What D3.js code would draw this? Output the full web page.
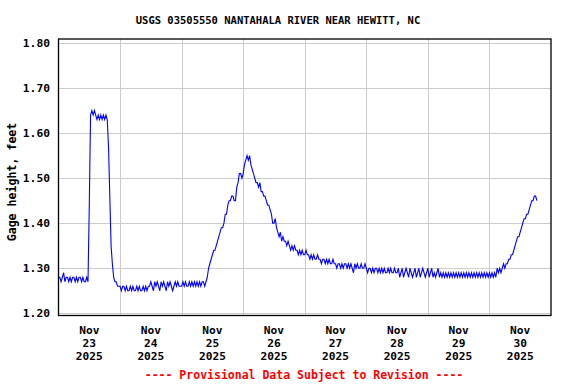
<!DOCTYPE html>
<html>
  <head>
    <title>USGS 03505550</title>
    <script src="https://d3js.org/d3.v7.min.js"></script>
    <style>
      body { margin: 0; background: #fff; }
      text { font-family: "DejaVu Sans Mono", "Liberation Mono", monospace; font-weight: bold; }
    </style>
  </head>

  <body>
    <svg width="576" height="384"></svg>

    <script>

    // gage height, feet, every 30 minutes from Nov 23 00:00
    const startTime = Date.UTC(2025, 10, 23, 0);
    const stepMinutes = 30;
    const gageHeight = [
      // Nov 23
      1.28, 1.28, 1.27, 1.28, 1.29, 1.27, 1.28, 1.28, 1.27, 1.28, 1.27, 1.28,
      1.28, 1.27, 1.28, 1.27, 1.28, 1.28, 1.27, 1.28, 1.27, 1.27, 1.28, 1.27,
      1.44, 1.64, 1.65, 1.64, 1.65, 1.64, 1.63, 1.64, 1.63, 1.64, 1.63, 1.64,
      1.63, 1.64, 1.63, 1.57, 1.46, 1.35, 1.31, 1.28, 1.27, 1.27, 1.26, 1.26,
      // Nov 24
      1.26, 1.25, 1.26, 1.26, 1.25, 1.26, 1.25, 1.25, 1.26, 1.25, 1.26, 1.25,
      1.25, 1.26, 1.25, 1.26, 1.25, 1.25, 1.26, 1.25, 1.26, 1.25, 1.26, 1.26,
      1.27, 1.26, 1.25, 1.27, 1.26, 1.27, 1.26, 1.25, 1.27, 1.26, 1.27, 1.26,
      1.25, 1.27, 1.26, 1.27, 1.26, 1.25, 1.26, 1.27, 1.26, 1.27, 1.26, 1.26,
      // Nov 25
      1.26, 1.27, 1.26, 1.27, 1.26, 1.26, 1.27, 1.26, 1.27, 1.26, 1.27, 1.26,
      1.27, 1.26, 1.27, 1.26, 1.27, 1.27, 1.26, 1.27, 1.28, 1.30, 1.31, 1.32,
      1.33, 1.34, 1.34, 1.35, 1.36, 1.37, 1.38, 1.39, 1.39, 1.40, 1.42, 1.42,
      1.44, 1.45, 1.45, 1.46, 1.46, 1.45, 1.45, 1.48, 1.49, 1.51, 1.51, 1.50,
      // Nov 26
      1.51, 1.53, 1.54, 1.55, 1.54, 1.55, 1.53, 1.52, 1.51, 1.50, 1.49, 1.49,
      1.48, 1.49, 1.47, 1.47, 1.46, 1.46, 1.45, 1.44, 1.44, 1.43, 1.42, 1.40,
      1.40, 1.41, 1.39, 1.38, 1.37, 1.38, 1.36, 1.37, 1.36, 1.36, 1.35, 1.36,
      1.35, 1.34, 1.35, 1.34, 1.35, 1.34, 1.34, 1.33, 1.34, 1.33, 1.34, 1.33,
      // Nov 27
      1.33, 1.34, 1.33, 1.33, 1.32, 1.33, 1.32, 1.33, 1.32, 1.32, 1.33, 1.32,
      1.32, 1.31, 1.32, 1.32, 1.31, 1.32, 1.31, 1.32, 1.31, 1.31, 1.32, 1.31,
      1.31, 1.30, 1.31, 1.31, 1.30, 1.31, 1.30, 1.31, 1.31, 1.30, 1.31, 1.30,
      1.31, 1.30, 1.29, 1.31, 1.30, 1.31, 1.30, 1.30, 1.31, 1.30, 1.30, 1.31,
      // Nov 28
      1.30, 1.29, 1.30, 1.30, 1.29, 1.30, 1.29, 1.30, 1.30, 1.29, 1.30, 1.29,
      1.30, 1.29, 1.30, 1.29, 1.29, 1.30, 1.29, 1.30, 1.29, 1.29, 1.30, 1.29,
      1.29, 1.30, 1.28, 1.29, 1.30, 1.28, 1.29, 1.30, 1.29, 1.28, 1.30, 1.29,
      1.28, 1.29, 1.30, 1.28, 1.29, 1.30, 1.28, 1.29, 1.30, 1.29, 1.28, 1.29,
      // Nov 29
      1.30, 1.28, 1.29, 1.30, 1.28, 1.29, 1.28, 1.29, 1.30, 1.28, 1.29, 1.28,
      1.29, 1.28, 1.29, 1.28, 1.29, 1.28, 1.29, 1.28, 1.29, 1.28, 1.29, 1.28,
      1.29, 1.28, 1.29, 1.28, 1.29, 1.28, 1.29, 1.28, 1.29, 1.28, 1.29, 1.28,
      1.29, 1.28, 1.29, 1.28, 1.29, 1.28, 1.29, 1.28, 1.29, 1.28, 1.29, 1.28,
      // Nov 30
      1.29, 1.28, 1.29, 1.28, 1.29, 1.28, 1.30, 1.29, 1.30, 1.29, 1.30, 1.31,
      1.30, 1.31, 1.31, 1.32, 1.32, 1.33, 1.33, 1.34, 1.35, 1.36, 1.37, 1.37,
      1.38, 1.39, 1.40, 1.41, 1.41, 1.42, 1.42, 1.43, 1.44, 1.45, 1.45, 1.46,
      1.46, 1.45
    ];

    const yTicks = [1.20, 1.30, 1.40, 1.50, 1.60, 1.70, 1.80];
    const dayLabels = ['23', '24', '25', '26', '27', '28', '29', '30'];
    const monthLabel = 'Nov';
    const yearLabel = '2025';

    const title = 'USGS 03505550 NANTAHALA RIVER NEAR HEWITT, NC';
    const yTitle = 'Gage height, feet';
    const footer = '---- Provisional Data Subject to Revision ----';

    (function (d3) {
    'use strict';

    const svg = d3.select('svg');
    const pLeft = 58.5, pRight = 551, pTop = 39, pBottom = 315.5;

    const x = d3.scaleUtc()
      .domain([new Date(Date.UTC(2025, 10, 23)), new Date(Date.UTC(2025, 11, 1))])
      .range([pLeft, pRight]);
    const y = d3.scaleLinear()
      .domain([1.1951, 1.8089])
      .range([pBottom, pTop]);

    const data = gageHeight.map((v, i) => ({
      t: new Date(startTime + i * stepMinutes * 60000),
      v: v
    }));

    // grid
    const grid = svg.append('g').attr('stroke', '#cccccc').attr('stroke-width', 1);
    grid.selectAll('line.h').data(yTicks).enter().append('line')
      .attr('x1', pLeft).attr('x2', pRight)
      .attr('y1', d => Math.round(y(d)) + 0.5).attr('y2', d => Math.round(y(d)) + 0.5);
    const midnights = d3.utcDay.range(new Date(Date.UTC(2025, 10, 24)), new Date(Date.UTC(2025, 11, 1)));
    grid.selectAll('line.v').data(midnights).enter().append('line')
      .attr('y1', pTop).attr('y2', pBottom)
      .attr('x1', d => Math.round(x(d)) + 0.5).attr('x2', d => Math.round(x(d)) + 0.5);

    // series
    const line = d3.line().x(d => x(d.t)).y(d => y(d.v));
    svg.append('path')
      .datum(data)
      .attr('fill', 'none')
      .attr('stroke', '#0000ff')
      .attr('stroke-width', 1.1)
      .attr('d', line);

    // frame
    svg.append('rect')
      .attr('x', pLeft).attr('y', pTop)
      .attr('width', pRight - pLeft).attr('height', pBottom - pTop)
      .attr('fill', 'none').attr('stroke', '#000').attr('stroke-width', 1.3);

    // y tick labels
    svg.selectAll('text.ytick').data(yTicks).enter().append('text')
      .attr('x', 50).attr('y', d => y(d))
      .attr('dy', '0.35em')
      .attr('text-anchor', 'end')
      .attr('font-size', 11.3)
      .text(d => d.toFixed(2));

    // x labels at noon of each day
    const days = d3.utcDay.range(new Date(Date.UTC(2025, 10, 23)), new Date(Date.UTC(2025, 11, 1)));
    const xl = svg.selectAll('text.xtick').data(days).enter().append('text')
      .attr('text-anchor', 'middle')
      .attr('font-size', 11.2)
      .attr('transform', d => `translate(${x(d3.utcHour.offset(d, 12))},334)`);
    xl.append('tspan').attr('x', 0).attr('y', 0).text(monthLabel);
    xl.append('tspan').attr('x', 0).attr('y', 12.8).text((d, i) => dayLabels[i]);
    xl.append('tspan').attr('x', 0).attr('y', 25.6).text(yearLabel);

    svg.append('text')
      .attr('x', 278).attr('y', 24)
      .attr('text-anchor', 'middle')
      .attr('font-size', 10.5)
      .text(title);

    svg.append('text')
      .attr('transform', 'translate(15.5,182) rotate(-90)')
      .attr('text-anchor', 'middle')
      .attr('font-size', 11.6)
      .text(yTitle);

    svg.append('text')
      .attr('x', 304).attr('y', 378.5)
      .attr('text-anchor', 'middle')
      .attr('font-size', 11.5)
      .attr('fill', '#ff0000')
      .text(footer);

    }(d3));

    </script>
  </body>
</html>
